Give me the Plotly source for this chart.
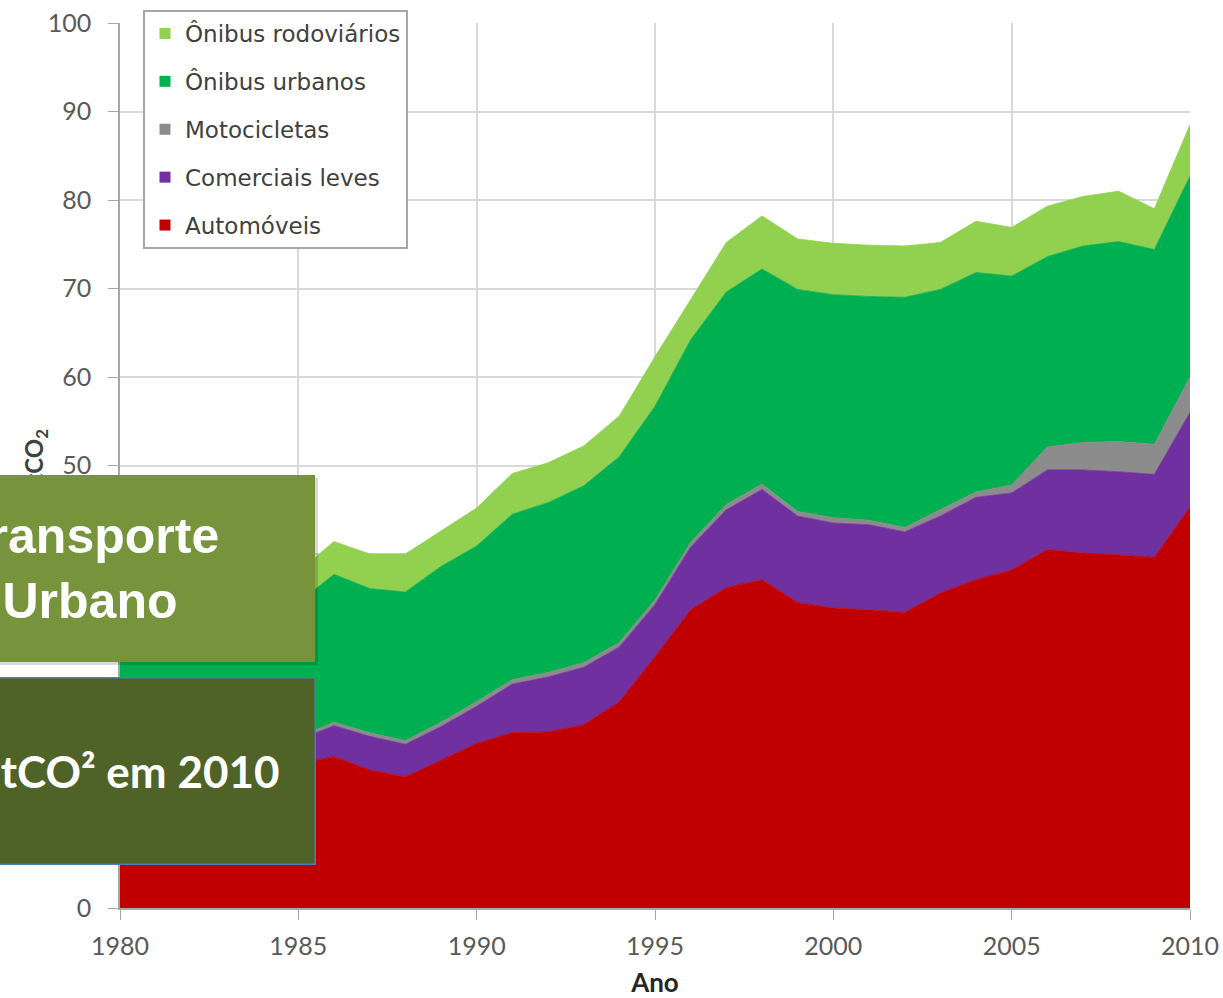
import plotly.graph_objects as go

# Emissões do transporte urbano por modo (MtCO2), 1980-2010
years = list(range(1980, 2011))

automoveis = [13.0, 13.8, 14.2, 14.5, 15.3, 16.3, 17.1, 15.6, 14.8, 16.7, 18.6, 19.8, 19.9, 20.7, 23.3, 28.4,
              33.7, 36.2, 37.1, 34.5, 33.9, 33.7, 33.4, 35.6, 37.1, 38.2, 40.5, 40.1, 39.9, 39.6, 45.3]
comerciais_leves = [2.0, 2.1, 2.2, 2.3, 2.5, 2.7, 3.5, 3.8, 3.7, 3.8, 4.2, 5.5, 6.2, 6.5, 6.2, 5.9,
                    7.1, 8.8, 10.2, 9.8, 9.6, 9.6, 9.1, 8.7, 9.3, 8.7, 9.0, 9.4, 9.4, 9.4, 10.7]
motocicletas = [0.3, 0.3, 0.3, 0.3, 0.3, 0.3, 0.4, 0.4, 0.4, 0.5, 0.5, 0.5, 0.5, 0.5, 0.5, 0.5,
                0.5, 0.6, 0.6, 0.5, 0.6, 0.5, 0.5, 0.7, 0.6, 0.9, 2.6, 3.1, 3.4, 3.4, 4.0]
onibus_urbanos = [15.7, 16.0, 15.8, 15.7, 15.5, 15.2, 16.7, 16.3, 16.8, 17.6, 17.6, 18.7, 19.2, 20.0, 21.0, 21.9,
                  22.9, 24.0, 24.3, 25.1, 25.2, 25.3, 26.0, 24.9, 24.8, 23.6, 21.5, 22.2, 22.6, 22.0, 22.7]
onibus_rodoviarios = [3.0, 3.2, 3.3, 3.4, 3.4, 3.5, 3.7, 3.9, 4.3, 4.0, 4.3, 4.6, 4.5, 4.5, 4.6, 5.6,
                      4.6, 5.6, 6.0, 5.7, 5.8, 5.8, 5.8, 5.3, 5.8, 5.5, 5.7, 5.6, 5.7, 4.6, 5.8]

x_ticks = [1980, 1985, 1990, 1995, 2000, 2005, 2010]
y_ticks = [0, 10, 20, 30, 40, 50, 60, 70, 80, 90, 100]

# bottom to top of the stack
series = [
    ("Automóveis", automoveis, "#C00000"),
    ("Comerciais leves", comerciais_leves, "#7030A0"),
    ("Motocicletas", motocicletas, "#8C8C8C"),
    ("Ônibus urbanos", onibus_urbanos, "#00B050"),
    ("Ônibus rodoviários", onibus_rodoviarios, "#92D050"),
]

W, H = 1223, 998
ML, MR, MT, MB = 120, 33, 23, 90


def px_x(px):
    return (px - ML) / (W - ML - MR)


def px_y(py):
    return (H - MB - py) / (H - MT - MB)


fig = go.Figure()

for name, vals, color in series:
    fig.add_trace(go.Scatter(
        x=years, y=vals, name=name, stackgroup="one", mode="lines",
        line=dict(width=0.8, color=color), fillcolor=color,
        showlegend=False, hoverinfo="x+y+name",
    ))

# legend entries with small square swatches, top item first
for i, (name, vals, color) in enumerate(reversed(series)):
    fig.add_trace(go.Scatter(
        x=[None], y=[None], mode="markers", name=name, legendgroup=f"g{i}",
        marker=dict(symbol="square", size=11, color=color),
    ))

annotations = [
    # y-axis title (partly hidden behind the boxes, as in the slide)
    dict(text="<b>MtCO<sub>2</sub></b>", xref="paper", yref="paper",
         x=px_x(35), y=px_y(467), xanchor="center", yanchor="middle",
         textangle=-90, showarrow=False,
         font=dict(family="Lato", size=24, color="#404040")),
    # overlay box 1
    dict(text="<b>Transporte<br>Urbano</b>", xref="paper", yref="paper",
         x=px_x(315), y=px_y(475), xanchor="right", yanchor="top",
         width=450, height=187, borderpad=0, borderwidth=0,
         bgcolor="#77933C", align="center", valign="middle", showarrow=False,
         font=dict(family="Liberation Sans", size=50, color="white")),
    # overlay box 2
    dict(text="<b>89 MtCO² em 2010</b>", xref="paper", yref="paper",
         x=px_x(316), y=px_y(677), xanchor="right", yanchor="top",
         width=450, height=115, borderpad=35, borderwidth=1.5, bordercolor="#4A7EBB",
         bgcolor="#4F6228", align="right", valign="middle", showarrow=False,
         font=dict(family="Lato", size=44, color="white")),
]

fig.update_layout(
    width=W, height=H,
    margin=dict(l=ML, r=MR, t=MT, b=MB, autoexpand=False),
    paper_bgcolor="white", plot_bgcolor="white",
    showlegend=True,
    legend=dict(
        x=px_x(143), y=px_y(10), xanchor="left", yanchor="top",
        bgcolor="white", bordercolor="#A6A6A6", borderwidth=2,
        traceorder="grouped", tracegroupgap=15,
        font=dict(family="DejaVu Sans", size=23, color="#404040"),
    ),
    annotations=annotations,
    shapes=[
        dict(type="rect", xref="paper", yref="paper",
             x0=px_x(-150), x1=px_x(318), y0=px_y(478), y1=px_y(665),
             fillcolor="rgba(0,0,0,0.15)", line=dict(width=0), layer="above"),
    ],
    xaxis=dict(
        range=[1980, 2010], tickvals=x_ticks, ticks="outside", ticklen=10,
        tickcolor="#A6A6A6", showline=True, linecolor="#A6A6A6", linewidth=1.5,
        showgrid=True, gridcolor="#D9D9D9", gridwidth=1.5, zeroline=False,
        ticklabelstandoff=5, automargin=False,
        tickfont=dict(family="Lato", size=25, color="#595959"),
        title=dict(text="<b>Ano</b>", standoff=19,
                   font=dict(family="Lato", size=26, color="#262626")),
    ),
    yaxis=dict(
        range=[0, 100], tickvals=y_ticks, ticks="outside", ticklen=10,
        tickcolor="#A6A6A6", showline=True, linecolor="#A6A6A6", linewidth=1.5,
        showgrid=True, gridcolor="#D9D9D9", gridwidth=1.5, zeroline=False,
        ticklabelstandoff=12, automargin=False,
        tickfont=dict(family="Lato", size=25, color="#595959"),
    ),
)

# the page's default body margin would shift the whole figure by 8px
fig.write_html("out.html", config={"displayModeBar": False},
               post_script="document.body.style.margin='0';")
